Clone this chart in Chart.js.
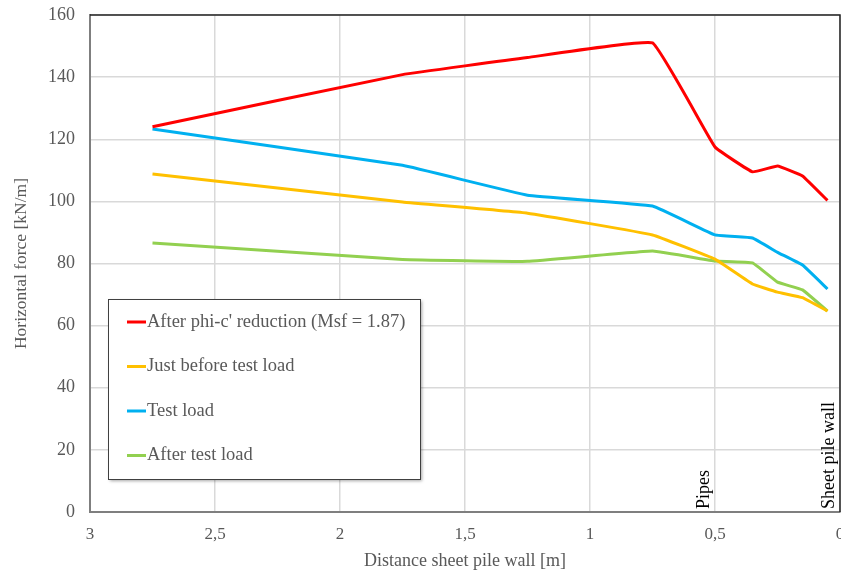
<!DOCTYPE html>
<html>
<head>
<meta charset="utf-8">
<script src="https://cdn.jsdelivr.net/npm/chart.js@4/dist/chart.umd.min.js"></script>
<style>
  html, body { margin: 0; padding: 0; background: #fff; }
  #wrap { width: 841px; height: 574px; position: relative; }
</style>
</head>
<body>
<div id="wrap"><canvas id="forceChart"></canvas></div>
<script>
// distance from sheet pile wall [m]
const distances = [2.75, 1.75, 1.25, 0.75, 0.5, 0.35, 0.25, 0.15, 0.05];

const afterPhiC = [124, 140.8, 146.3, 151, 117.5, 109.5, 111.4, 108.2, 100.3];
const beforeTest = [108.8, 99.8, 96.2, 89.2, 81.4, 73.4, 70.8, 69, 64.7];
const testLoad = [123.3, 111.6, 102, 98.5, 89.2, 88.2, 83.6, 79.5, 71.8];
const afterTest = [86.6, 81.3, 80.7, 84, 80.8, 80.2, 74, 71.5, 64.7];

const seriesNames = ["After phi-c' reduction (Msf = 1.87)", 'Just before test load', 'Test load', 'After test load'];
const seriesColors = ['#ff0000', '#ffc000', '#00b0f0', '#92d050'];

const markers = [
  { x: 0.5, text: 'Pipes' },
  { x: 0, text: 'Sheet pile wall' }
];

const serif = "'Liberation Serif', 'DejaVu Serif', serif";
const grey = '#595959';

const toPoints = vals => vals.map((v, i) => ({ x: distances[i], y: v }));

const allSeries = [afterPhiC, beforeTest, testLoad, afterTest];

const data = {
  datasets: allSeries.map((vals, i) => ({
    label: seriesNames[i],
    data: toPoints(vals),
    borderColor: seriesColors[i],
    backgroundColor: seriesColors[i],
    borderWidth: 3,
    pointRadius: 0,
    tension: 0.08,
    fill: false
  }))
};

// frame, marker texts and boxed legend
const extras = {
  id: 'extras',
  afterDatasetsDraw(chart) {
    const { ctx, chartArea: a, scales } = chart;
    ctx.save();
    // top and right border
    ctx.strokeStyle = '#222';
    ctx.lineWidth = 1.5;
    ctx.beginPath();
    ctx.moveTo(a.left, a.top);
    ctx.lineTo(a.right, a.top);
    ctx.lineTo(a.right, a.bottom);
    ctx.stroke();

    // vertical marker labels
    ctx.fillStyle = '#000';
    ctx.font = '18px ' + serif;
    ctx.textAlign = 'left';
    ctx.textBaseline = 'bottom';
    markers.forEach(m => {
      const px = scales.x.getPixelForValue(m.x);
      ctx.save();
      ctx.translate(px - 2, a.bottom - 3);
      ctx.rotate(-Math.PI / 2);
      ctx.fillText(m.text, 0, 0);
      ctx.restore();
    });

    // legend box
    const bx = 108, by = 299, bw = 312, bh = 180;
    ctx.shadowColor = 'rgba(0,0,0,0.35)';
    ctx.shadowOffsetX = 2;
    ctx.shadowOffsetY = 2;
    ctx.shadowBlur = 3;
    ctx.fillStyle = '#fff';
    ctx.fillRect(bx, by, bw, bh);
    ctx.shadowColor = 'transparent';
    ctx.strokeStyle = '#404040';
    ctx.lineWidth = 1;
    ctx.strokeRect(bx + 0.5, by + 0.5, bw, bh);

    ctx.font = '18.5px ' + serif;
    ctx.textBaseline = 'middle';
    ctx.fillStyle = grey;
    chart.data.datasets.forEach((ds, i) => {
      const ly = by + 23 + i * 44.5;
      ctx.strokeStyle = ds.borderColor;
      ctx.lineWidth = 3;
      ctx.beginPath();
      ctx.moveTo(bx + 19, ly);
      ctx.lineTo(bx + 38, ly);
      ctx.stroke();
      ctx.fillText(ds.label, bx + 39, ly);
    });
    ctx.restore();
  }
};

new Chart(document.getElementById('forceChart'), {
  type: 'line',
  data: data,
  plugins: [extras],
  options: {
    responsive: true,
    maintainAspectRatio: false,
    animation: false,
    layout: { padding: { top: 15, right: 1, left: 0, bottom: 0 } },
    scales: {
      x: {
        type: 'linear',
        reverse: true,
        min: 0,
        max: 3,
        ticks: {
          stepSize: 0.5,
          color: grey,
          font: { family: serif, size: 17 },
          padding: 12,
          maxRotation: 0,
          callback: v => String(v).replace('.', ',')
        },
        grid: { color: '#d9d9d9', lineWidth: 1.5, drawTicks: false },
        border: { color: '#7f7f7f', width: 2 },
        title: {
          display: true,
          text: 'Distance sheet pile wall [m]',
          color: grey,
          font: { family: serif, size: 18 },
          padding: { top: 2, bottom: 2 }
        },
        afterFit: s => { s.height = 62; s.paddingRight = 0; s.paddingLeft = 0; }
      },
      y: {
        min: 0,
        max: 160,
        ticks: {
          stepSize: 20,
          color: grey,
          font: { family: serif, size: 18 },
          padding: 15
        },
        grid: { color: '#d9d9d9', lineWidth: 1.5, drawTicks: false },
        border: { color: '#7f7f7f', width: 2 },
        title: {
          display: true,
          text: 'Horizontal force [kN/m]',
          color: grey,
          font: { family: serif, size: 17.5 },
          padding: { top: 11, bottom: 4 }
        },
        afterFit: s => { s.width = 90; s.paddingTop = 0; s.paddingBottom = 0; }
      }
    },
    plugins: {
      legend: { display: false },
      tooltip: { enabled: false }
    }
  }
});
</script>
</body>
</html>
